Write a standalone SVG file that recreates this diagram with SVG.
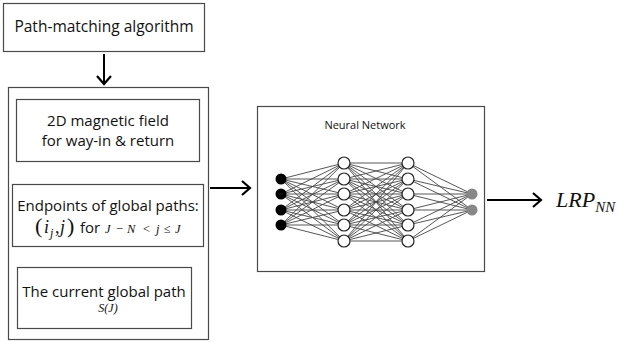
<svg xmlns="http://www.w3.org/2000/svg" width="619" height="342" viewBox="0 0 619 342">
<style>
.box{fill:#fff;stroke:#4a4a4a;stroke-width:1.2}
.t{font-family:"Open Sans","Liberation Sans",sans-serif;font-size:15px;fill:#111;text-anchor:middle}
.s{font-family:"Open Sans","Liberation Sans",sans-serif;font-size:11px;fill:#111;text-anchor:middle}
.m{font-family:"Liberation Serif",serif;font-style:italic;fill:#111}
.r{font-family:"Liberation Serif",serif;fill:#111}
.arr{stroke:#000;stroke-width:2;fill:none}
.e{stroke:#444;stroke-width:0.9}
.h{fill:#fff;stroke:#222;stroke-width:1.2}
</style>
<defs>
<marker id="ah" viewBox="0 0 12 16" refX="11" refY="8" markerWidth="12" markerHeight="16" markerUnits="userSpaceOnUse" orient="auto" overflow="visible">
<path d="M3,1 L11,8 L3,15" fill="none" stroke="#000" stroke-width="2.2"/>
</marker>
</defs>
<rect width="619" height="342" fill="#fff"/>
<g id="path-matching">
<rect class="box" x="3.5" y="3.5" width="201" height="48"/>
<text class="t" x="104" y="32" style="font-size:15.5px">Path-matching algorithm</text>
</g>
<g id="inputs">
<rect class="box" x="8.5" y="87.5" width="200" height="252"/>
<g id="magnetic">
<rect class="box" x="16.5" y="99.5" width="183" height="62"/>
<text class="t" x="108" y="126">2D magnetic field</text>
<text class="t" x="108" y="146">for way-in &amp; return</text>
</g>
<g id="endpoints">
<rect class="box" x="12.5" y="184.5" width="191" height="62"/>
<text class="t" x="108" y="211">Endpoints of global paths:</text>
<text y="233" fill="#111"><tspan class="r" x="35" font-size="22">(</tspan><tspan class="m" x="44" font-size="18">i</tspan><tspan class="m" x="50" font-size="12" dy="4">j</tspan><tspan class="r" x="55" font-size="18" dy="-4">,</tspan><tspan class="m" x="60" font-size="18">j</tspan><tspan class="r" x="67" font-size="22">)</tspan><tspan x="80" font-family="Open Sans,Liberation Sans,sans-serif" font-size="15">for</tspan><tspan class="m" font-size="12.5" x="105">J</tspan><tspan class="r" font-size="12.5" x="116">−</tspan><tspan class="m" font-size="12.5" x="127">N</tspan><tspan class="r" font-size="12.5" x="143">&lt;</tspan><tspan class="m" font-size="12.5" x="156">j</tspan><tspan class="r" font-size="12.5" x="164">≤</tspan><tspan class="m" font-size="12.5" x="175">J</tspan></text>
</g>
<g id="current">
<rect class="box" x="17.5" y="267.5" width="174" height="61"/>
<text class="t" x="104" y="297">The current global path</text>
<text class="m" x="108" y="312" font-size="12" text-anchor="middle">S(J)</text>
</g>
</g>
<g id="neural-network">
<rect class="box" x="257.5" y="106.5" width="227" height="165"/>
<text class="s" x="365" y="129">Neural Network</text>
<g id="nn-edges">
<path class="e" d="M281,179L344,163M281,179L344,179M281,179L344,194M281,179L344,210M281,179L344,225M281,179L344,241M281,194L344,163M281,194L344,179M281,194L344,194M281,194L344,210M281,194L344,225M281,194L344,241M281,210L344,163M281,210L344,179M281,210L344,194M281,210L344,210M281,210L344,225M281,210L344,241M281,225L344,163M281,225L344,179M281,225L344,194M281,225L344,210M281,225L344,225M281,225L344,241"/>
<path class="e" d="M344,163L408,163M344,163L408,179M344,163L408,194M344,163L408,210M344,163L408,225M344,163L408,241M344,179L408,163M344,179L408,179M344,179L408,194M344,179L408,210M344,179L408,225M344,179L408,241M344,194L408,163M344,194L408,179M344,194L408,194M344,194L408,210M344,194L408,225M344,194L408,241M344,210L408,163M344,210L408,179M344,210L408,194M344,210L408,210M344,210L408,225M344,210L408,241M344,225L408,163M344,225L408,179M344,225L408,194M344,225L408,210M344,225L408,225M344,225L408,241M344,241L408,163M344,241L408,179M344,241L408,194M344,241L408,210M344,241L408,225M344,241L408,241"/>
<path class="e" d="M408,163L472,194M408,163L472,210M408,179L472,194M408,179L472,210M408,194L472,194M408,194L472,210M408,210L472,194M408,210L472,210M408,225L472,194M408,225L472,210M408,241L472,194M408,241L472,210"/>
</g>
<g id="nn-nodes">
<circle cx="281" cy="179" r="5.5" fill="#000"/>
<circle cx="281" cy="194" r="5.5" fill="#000"/>
<circle cx="281" cy="210" r="5.5" fill="#000"/>
<circle cx="281" cy="225" r="5.5" fill="#000"/>
<circle class="h" cx="344" cy="163" r="6"/>
<circle class="h" cx="344" cy="179" r="6"/>
<circle class="h" cx="344" cy="194" r="6"/>
<circle class="h" cx="344" cy="210" r="6"/>
<circle class="h" cx="344" cy="225" r="6"/>
<circle class="h" cx="344" cy="241" r="6"/>
<circle class="h" cx="408" cy="163" r="6"/>
<circle class="h" cx="408" cy="179" r="6"/>
<circle class="h" cx="408" cy="194" r="6"/>
<circle class="h" cx="408" cy="210" r="6"/>
<circle class="h" cx="408" cy="225" r="6"/>
<circle class="h" cx="408" cy="241" r="6"/>
<circle cx="472" cy="194" r="5.5" fill="#888"/>
<circle cx="472" cy="210" r="5.5" fill="#888"/>
</g>
</g>
<g id="lrp">
<text class="m" x="556" y="207" font-size="22">LRP<tspan font-size="15" dy="5">NN</tspan></text>
</g>
<g id="connectors">
<line class="arr" x1="104" y1="54" x2="104" y2="84" marker-end="url(#ah)"/>
<line class="arr" x1="210" y1="188" x2="250" y2="188" marker-end="url(#ah)"/>
<line class="arr" x1="487" y1="200" x2="541" y2="200" marker-end="url(#ah)"/>
</g>
</svg>
